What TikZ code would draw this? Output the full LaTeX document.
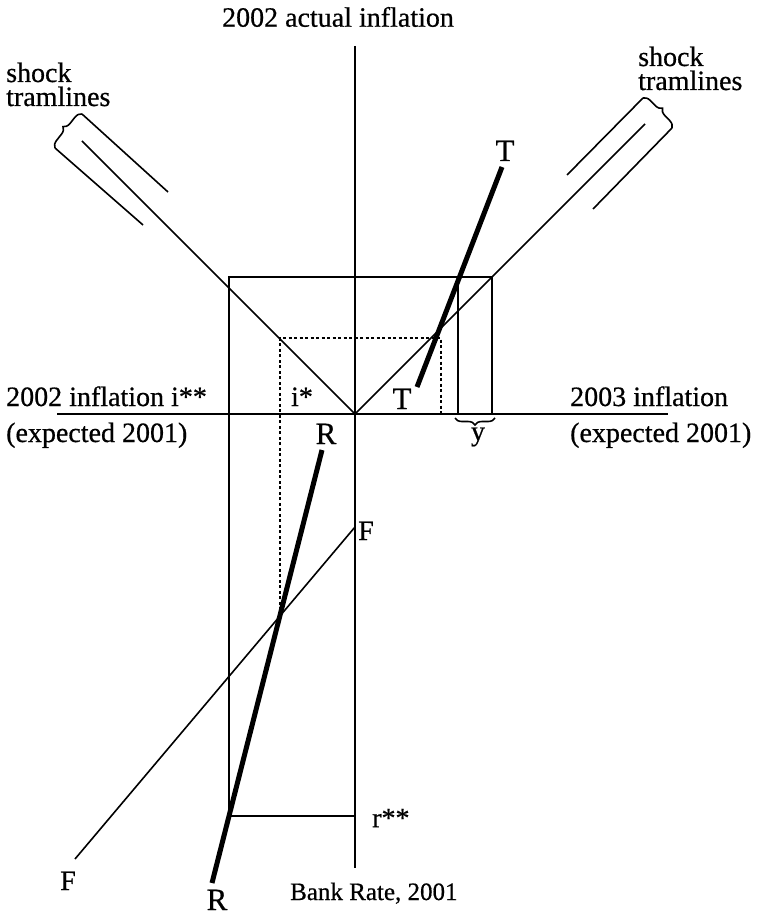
\documentclass[tikz,border=0pt]{standalone}
\usepackage{fontspec}
\setmainfont{Liberation Serif}[FakeBold=0.6]
\usetikzlibrary{decorations.pathreplacing}
\begin{document}
\begin{tikzpicture}[x=1pt,y=-1pt,
  ln/.style={line width=1.6pt},
  axis/.style={line width=2pt},
  thick line/.style={line width=5pt},
  dashline/.style={line width=1.6pt,dash pattern=on 3pt off 2.5pt},
  lbl/.style={inner sep=0pt,font=\fontsize{28}{30}\selectfont},
  pt/.style={inner sep=0pt,font=\fontsize{31}{33}\selectfont},
  two/.style={inner sep=0pt,font=\fontsize{28}{24}\selectfont,anchor=base west,align=left},
  brc/.style={line width=1.6pt,decorate,decoration={brace,amplitude=7pt}}]
\useasboundingbox (0,0) rectangle (756,917);
% coordinates
\coordinate (O) at (355,414);
\coordinate (vtop) at (355,46);
\coordinate (vbot) at (355,868);
\coordinate (hl) at (57,414);
\coordinate (hr) at (668,414);
\coordinate (Vl) at (82,141);
\coordinate (Vr) at (645,124);
\coordinate (A) at (229,277);
\coordinate (B) at (492,277);
\coordinate (B2) at (458,277);
\coordinate (Bb) at (492,414);
\coordinate (B2b) at (458,414);
\coordinate (Ab) at (229,816);
\coordinate (rr) at (355,816);
\coordinate (d1) at (280,610);
\coordinate (d2) at (280,338);
\coordinate (d3) at (441,338);
\coordinate (d4) at (441,414);
\coordinate (T1) at (417,387);
\coordinate (T2) at (502,167);
\coordinate (R1) at (322,450);
\coordinate (R2) at (212,883);
\coordinate (F1) at (355,527);
\coordinate (F2) at (75,859);
\coordinate (lu1) at (82,114);
\coordinate (lu2) at (168,192);
\coordinate (ll1) at (55,148);
\coordinate (ll2) at (143,225);
\coordinate (ru1) at (643,98);
\coordinate (ru2) at (567,175);
\coordinate (rl1) at (672,128);
\coordinate (rl2) at (593,209);
\coordinate (yb1) at (495,418);
\coordinate (yb2) at (455,418);
% axes
\draw[axis] (vtop) -- (vbot);
\draw[axis] (hl) -- (hr);
% V lines
\draw[ln] (Vl) -- (O) -- (Vr);
% rectangle and verticals
\draw[ln] (Ab) -- (A) -- (B) -- (Bb);
\draw[ln] (B2) -- (B2b);
\draw[ln] (Ab) -- (rr);
% dashed rectangle
\draw[dashline] (d1) -- (d2) -- (d3) -- (d4);
% F line
\draw[ln] (F1) -- (F2);
% thick lines
\draw[thick line] (T1) -- (T2);
\draw[thick line] (R1) -- (R2);
% tramlines
\draw[ln] (lu1) -- (lu2);
\draw[ln] (ll1) -- (ll2);
\draw[ln] (ru1) -- (ru2);
\draw[ln] (rl1) -- (rl2);
\draw[brc] (ll1) -- (lu1);
\draw[brc] (ru1) -- (rl1);
\draw[brc] (yb1) -- (yb2);
% labels
\node[lbl] (top) at (338,17) {2002 actual inflation};
\node[lbl,anchor=base west] (l1) at (6,406) {2002 inflation i**};
\node[lbl,anchor=base west] (l2) at (6,442) {(expected 2001)};
\node[lbl,anchor=base west] (r1) at (570,406) {2003 inflation};
\node[lbl,anchor=base west] (r2) at (570,442) {(expected 2001)};
\node[lbl,anchor=base] (istar) at (302,406) {i*};
\node[lbl] (ylab) at (478,437) {y};
\node[pt,anchor=base] (Rtop) at (326,444) {R};
\node[pt,anchor=base] (Rbot) at (217,910) {R};
\node[pt,anchor=base] (Tbot) at (402,409) {T};
\node[pt,anchor=base] (Ttop) at (505,161) {T};
\node[lbl,anchor=base] (Ftop) at (366,540) {F};
\node[lbl,anchor=base] (Fbot) at (68,890) {F};
\node[lbl,anchor=west] (rss) at (372,818) {r**};
\node[inner sep=0pt,font=\fontsize{25}{27}\selectfont,anchor=base west] (bank) at (290,900) {Bank Rate, 2001};
\node[two] (stl) at (6,106) {shock\\tramlines};
\node[two] (str) at (638,90) {shock\\tramlines};
\end{tikzpicture}
\end{document}
